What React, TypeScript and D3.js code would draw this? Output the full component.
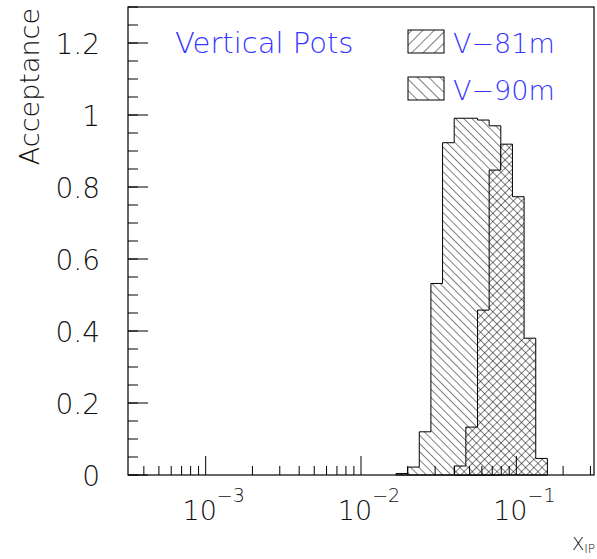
import React from "react";
import * as d3 from "d3";

// ---- data ----
const logMin = -3.5;
const logMax = -0.5;
const nBins = 40;
// bin index -> acceptance
const v90Bins = [23, 24, 25, 26, 27, 28, 29, 30, 31];
const v90Vals = [0.004, 0.022, 0.12, 0.532, 0.923, 0.991, 0.991, 0.986, 0.97];
const v81Bins = [28, 29, 30, 31, 32, 33, 34, 35];
const v81Vals = [0.025, 0.133, 0.458, 0.847, 0.919, 0.773, 0.38, 0.046];
const yTicks = [0, 0.2, 0.4, 0.6, 0.8, 1, 1.2];
const yTickLabels = ["0", "0.2", "0.4", "0.6", "0.8", "1", "1.2"];
const xDecades = [-3, -2, -1];
const xDecadeLabels = ["\u22123", "\u22122", "\u22121"];
const legendLabels = ["V\u221281m", "V\u221290m"];
const title = "Vertical Pots";

const W = 597;
const H = 559;
const L = 128, R = 594, T = 7, B = 475;
const FONT = "'DejaVu Sans', 'Liberation Sans', sans-serif";
const HS = 5.8;

export default function App() {
  const x = d3.scaleLog().domain([10 ** logMin, 10 ** logMax]).range([L, R]);
  const y = d3.scaleLinear().domain([0, 1.3]).range([B, T]);
  const binW = (logMax - logMin) / nBins;
  const edge = (i: number) => 10 ** (logMin + i * binW);

  const histPath = (bins: number[], vals: number[]) => {
    const pts: [number, number][] = [];
    pts.push([x(edge(bins[0])), y(0)]);
    bins.forEach((b, k) => {
      pts.push([x(edge(b)), y(vals[k])]);
      pts.push([x(edge(b + 1)), y(vals[k])]);
    });
    pts.push([x(edge(bins[bins.length - 1] + 1)), y(0)]);
    return d3.line()(pts) + "Z";
  };

  const yMinor = d3.range(0, 1.3001, 0.05);
  const xMinor: number[] = [];
  for (let d = -4; d <= -1; d++) {
    for (let m = 2; m <= 9; m++) {
      const v = m * 10 ** d;
      if (v > 10 ** logMin && v < 10 ** logMax) xMinor.push(v);
    }
  }

  return (
    <svg width={W} height={H} style={{ display: "block", position: "absolute", left: 0, top: 0 }}>
      <defs>
        <pattern id="back" patternUnits="userSpaceOnUse" width={HS} height={HS} patternTransform="rotate(-45)">
          <line x1={0} y1={0} x2={0} y2={HS} stroke="#000" strokeWidth={1} />
        </pattern>
        <pattern id="fwd" patternUnits="userSpaceOnUse" width={HS} height={HS} patternTransform="rotate(45)">
          <line x1={0} y1={0} x2={0} y2={HS} stroke="#000" strokeWidth={1} />
        </pattern>
        <pattern id="lback" patternUnits="userSpaceOnUse" width={8} height={8} patternTransform="rotate(-45)">
          <line x1={0} y1={0} x2={0} y2={8} stroke="#000" strokeWidth={1} />
        </pattern>
        <pattern id="lfwd" patternUnits="userSpaceOnUse" width={8} height={8} patternTransform="rotate(45)">
          <line x1={0} y1={0} x2={0} y2={8} stroke="#000" strokeWidth={1} />
        </pattern>
      </defs>
      <rect x={0} y={0} width={W} height={H} fill="#fff" />

      {/* histograms */}
      <path d={histPath(v90Bins, v90Vals)} fill="url(#back)" stroke="none" />
      <path d={histPath(v90Bins, v90Vals)} fill="none" stroke="#000" strokeWidth={1} />
      <path d={histPath(v81Bins, v81Vals)} fill="#fff" stroke="none" />
      <path d={histPath(v81Bins, v81Vals)} fill="url(#back)" stroke="none" />
      <path d={histPath(v81Bins, v81Vals)} fill="url(#fwd)" stroke="none" />
      <path d={histPath(v81Bins, v81Vals)} fill="none" stroke="#000" strokeWidth={1} />

      {/* frame */}
      <rect x={L} y={T} width={R - L} height={B - T} fill="none" stroke="#000" strokeWidth={1.2} />

      {/* y ticks */}
      {yMinor.map((v, i) => (
        <line key={"ym" + i} x1={L} x2={L + 10} y1={y(v)} y2={y(v)} stroke="#000" strokeWidth={1} />
      ))}
      {yTicks.map((v, i) => (
        <g key={"yt" + i}>
          <line x1={L} x2={L + 20} y1={y(v)} y2={y(v)} stroke="#000" strokeWidth={1} />
          <text x={100} y={y(v) + 10.5} textAnchor="end" fontFamily={FONT} fontWeight={200} fontSize={28} fill="#111">
            {yTickLabels[i]}
          </text>
        </g>
      ))}

      {/* x ticks */}
      {xMinor.map((v, i) => (
        <line key={"xm" + i} x1={x(v)} x2={x(v)} y1={B} y2={B - 9} stroke="#000" strokeWidth={1} />
      ))}
      {xDecades.map((d, i) => (
        <g key={"xt" + i}>
          <line x1={x(10 ** d)} x2={x(10 ** d)} y1={B} y2={B - 19} stroke="#000" strokeWidth={1} />
          <text x={x(10 ** d) + 8} y={520} textAnchor="middle" fontFamily={FONT} fontWeight={200} fontSize={27} fill="#111">
            10
            <tspan dy={-18} fontSize={19}>{xDecadeLabels[i]}</tspan>
          </text>
        </g>
      ))}

      {/* axis titles */}
      <text x={595} y={550} textAnchor="end" fontFamily={FONT} fontWeight={200} fontSize={18} fill="#111">
        X<tspan dy={3} fontSize={12}>IP</tspan>
      </text>
      <text transform="translate(39,8) rotate(-90)" textAnchor="end" fontFamily={FONT} fontWeight={200} fontSize={27} fill="#111">
        Acceptance
      </text>

      {/* title */}
      <text x={175} y={53} fontFamily={FONT} fontWeight={200} fontSize={29} fill="#3535ff">
        {title}
      </text>

      {/* legend */}
      {legendLabels.map((lab, i) => (
        <g key={"lg" + i}>
          <rect x={408} y={30 + i * 47} width={36} height={23} fill={i === 0 ? "url(#lfwd)" : "url(#lback)"} stroke="#000" strokeWidth={1} />
          <text x={453} y={53 + i * 47} fontFamily={FONT} fontWeight={200} fontSize={27} fill="#3535ff">
            {lab}
          </text>
        </g>
      ))}
    </svg>
  );
}
